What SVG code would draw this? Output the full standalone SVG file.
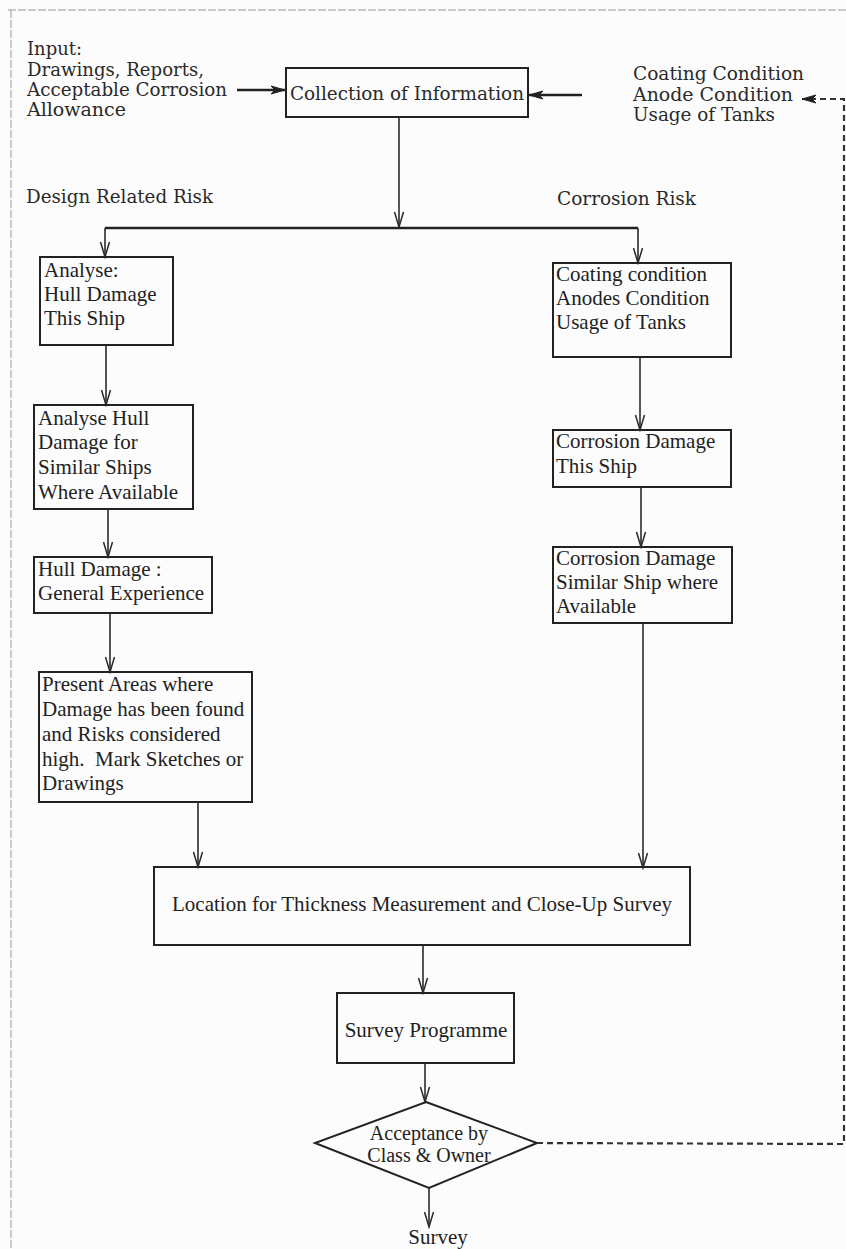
<svg xmlns="http://www.w3.org/2000/svg" width="846" height="1249" viewBox="0 0 846 1249">
<defs>
<style>
.bg{fill:#fcfcfc}
.box{fill:none;stroke:#222;stroke-width:2}
.ln{fill:none;stroke:#2a2a2a;stroke-width:1.6}
.thick{fill:none;stroke:#222;stroke-width:2.4}
.dash{fill:none;stroke:#333;stroke-width:2.2;stroke-dasharray:6 4}
.frame{fill:none;stroke:#999;stroke-width:1;stroke-dasharray:8 2}
.t{font-family:"Liberation Serif","Times New Roman",serif;font-size:21px;fill:#222}
.s{font-family:"DejaVu Serif Condensed","DejaVu Serif","Liberation Serif",serif;font-size:18px;fill:#2a2a2a}
</style>
<marker id="v" markerUnits="userSpaceOnUse" viewBox="-16 -6 18 12" refX="0" refY="0" markerWidth="18" markerHeight="12" orient="auto">
<path d="M-15,-4.5 L0,0 L-15,4.5" fill="none" stroke="#2a2a2a" stroke-width="1.5"/>
</marker>
<marker id="f" markerUnits="userSpaceOnUse" viewBox="-16 -6 18 12" refX="0" refY="0" markerWidth="18" markerHeight="12" orient="auto">
<path d="M-14,-4 L0,0 L-14,4 L-10,0 z" fill="#222" stroke="#222" stroke-width="1"/>
</marker>
</defs>
<rect class="bg" x="0" y="0" width="846" height="1249"/>
<g id="frame">
<line class="frame" x1="8" y1="10" x2="846" y2="10"/>
<line class="frame" x1="11" y1="10" x2="11" y2="1249"/>
</g>
<g id="input-text">
<text class="s" x="27" y="55" textLength="55" lengthAdjust="spacingAndGlyphs">Input:</text>
<text class="s" x="27" y="76" textLength="177" lengthAdjust="spacingAndGlyphs">Drawings, Reports,</text>
<text class="s" x="27" y="96" textLength="200" lengthAdjust="spacingAndGlyphs">Acceptable Corrosion</text>
<text class="s" x="27" y="116" textLength="99" lengthAdjust="spacingAndGlyphs">Allowance</text>
</g>
<g id="feedback-text">
<text class="s" x="633" y="80" textLength="171" lengthAdjust="spacingAndGlyphs">Coating Condition</text>
<text class="s" x="633" y="101" textLength="160" lengthAdjust="spacingAndGlyphs">Anode Condition</text>
<text class="s" x="633" y="121" textLength="142" lengthAdjust="spacingAndGlyphs">Usage of Tanks</text>
</g>
<g id="collection">
<rect class="box" x="286" y="68" width="242" height="49"/>
<text class="s" x="290" y="100" textLength="234" lengthAdjust="spacingAndGlyphs">Collection of Information</text>
</g>
<g id="labels">
<text class="s" x="26" y="203" textLength="187" lengthAdjust="spacingAndGlyphs">Design Related Risk</text>
<text class="s" x="557" y="205" textLength="139" lengthAdjust="spacingAndGlyphs">Corrosion Risk</text>
</g>
<g id="analyse">
<rect class="box" x="40" y="257" width="133" height="88"/>
<text class="t" x="44" y="277">Analyse:</text>
<text class="t" x="44" y="301">Hull Damage</text>
<text class="t" x="44" y="325">This Ship</text>
</g>
<g id="analyse-similar">
<rect class="box" x="34" y="405" width="159" height="104"/>
<text class="t" x="38" y="425">Analyse Hull</text>
<text class="t" x="38" y="449">Damage for</text>
<text class="t" x="38" y="474">Similar Ships</text>
<text class="t" x="38" y="499">Where Available</text>
</g>
<g id="hull-general">
<rect class="box" x="34" y="557" width="178" height="56"/>
<text class="t" x="38" y="576">Hull Damage :</text>
<text class="t" x="38" y="600">General Experience</text>
</g>
<g id="present-areas">
<rect class="box" x="39" y="672" width="213" height="130"/>
<text class="t" x="42" y="691">Present Areas where</text>
<text class="t" x="42" y="716">Damage has been found</text>
<text class="t" x="42" y="741">and Risks considered</text>
<text class="t" x="42" y="766" xml:space="preserve">high.  Mark Sketches or</text>
<text class="t" x="42" y="790">Drawings</text>
</g>
<g id="coating">
<rect class="box" x="553" y="263" width="178" height="94"/>
<text class="t" x="556" y="281">Coating condition</text>
<text class="t" x="556" y="305">Anodes Condition</text>
<text class="t" x="556" y="329">Usage of Tanks</text>
</g>
<g id="corrosion-this">
<rect class="box" x="553" y="430" width="178" height="57"/>
<text class="t" x="556" y="448">Corrosion Damage</text>
<text class="t" x="556" y="473">This Ship</text>
</g>
<g id="corrosion-similar">
<rect class="box" x="553" y="547" width="179" height="76"/>
<text class="t" x="556" y="565">Corrosion Damage</text>
<text class="t" x="556" y="589">Similar Ship where</text>
<text class="t" x="556" y="613">Available</text>
</g>
<g id="location">
<rect class="box" x="154" y="867" width="536" height="78"/>
<text class="t" x="422" y="911" text-anchor="middle">Location for Thickness Measurement and Close-Up Survey</text>
</g>
<g id="survey-programme">
<rect class="box" x="337" y="993" width="177" height="70"/>
<text class="t" x="426" y="1037" text-anchor="middle">Survey Programme</text>
</g>
<g id="acceptance">
<polygon class="box" points="426,1102 537,1143 429,1188 315,1143"/>
<text class="t" x="429" y="1140" text-anchor="middle" style="font-size:20px">Acceptance by</text>
<text class="t" x="429" y="1162" text-anchor="middle" style="font-size:20px">Class &amp; Owner</text>
</g>
<g id="survey">
<text class="t" x="438" y="1244" text-anchor="middle">Survey</text>
</g>
<g id="connectors">
<line class="thick" x1="237" y1="90" x2="285" y2="90" marker-end="url(#f)"/>
<line class="thick" x1="582" y1="95" x2="529" y2="95" marker-end="url(#f)"/>
<line class="ln" x1="399" y1="117" x2="399" y2="227" marker-end="url(#v)"/>
<line class="thick" x1="105" y1="228" x2="638" y2="228"/>
<line class="ln" x1="105" y1="228" x2="105" y2="257" marker-end="url(#v)"/>
<line class="ln" x1="638" y1="228" x2="638" y2="263" marker-end="url(#v)"/>
<line class="ln" x1="106" y1="345" x2="106" y2="405" marker-end="url(#v)"/>
<line class="ln" x1="108" y1="509" x2="108" y2="557" marker-end="url(#v)"/>
<line class="ln" x1="110" y1="613" x2="110" y2="672" marker-end="url(#v)"/>
<line class="ln" x1="198" y1="802" x2="198" y2="867" marker-end="url(#v)"/>
<line class="ln" x1="640" y1="357" x2="640" y2="430" marker-end="url(#v)"/>
<line class="ln" x1="641" y1="487" x2="641" y2="547" marker-end="url(#v)"/>
<line class="ln" x1="643" y1="623" x2="643" y2="868" marker-end="url(#v)"/>
<line class="ln" x1="423" y1="945" x2="423" y2="993" marker-end="url(#v)"/>
<line class="ln" x1="425" y1="1063" x2="425" y2="1102" marker-end="url(#v)"/>
<line class="ln" x1="429" y1="1188" x2="429" y2="1227" marker-end="url(#v)"/>
<polyline class="dash" points="537,1143 844,1144 844,99 802,99" marker-end="url(#f)"/>
</g>
</svg>
